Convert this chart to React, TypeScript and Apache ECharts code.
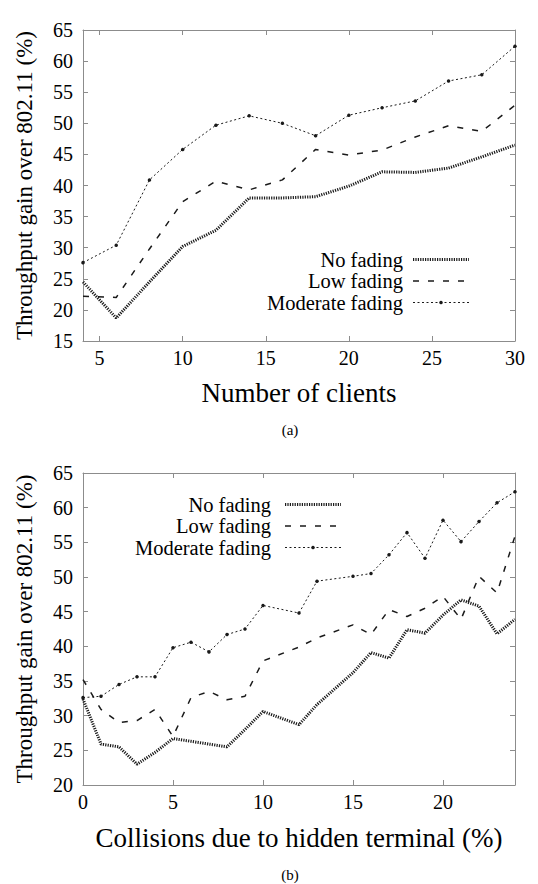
import React, { useEffect, useRef } from "react";
import * as echarts from "echarts";

// ---- Panel (a): throughput gain vs number of clients ----
const clientsX = [4, 6, 8, 10, 12, 14, 16, 18, 20, 22, 24, 26, 28, 30];
const noFadingA = [24.5, 18.7, 24.5, 30.2, 32.8, 38.0, 38.0, 38.2, 39.9, 42.2, 42.1, 42.8, 44.6, 46.5];
const lowFadingA = [22.2, 22.0, 29.8, 37.4, 40.7, 39.3, 40.9, 45.8, 44.9, 45.7, 47.8, 49.6, 48.7, 52.9];
const moderateA = [27.6, 30.4, 40.9, 45.8, 49.7, 51.2, 50.0, 48.0, 51.3, 52.5, 53.6, 56.8, 57.8, 62.4];
const ticksXA = [5, 10, 15, 20, 25, 30];

// ---- Panel (b): throughput gain vs collisions due to hidden terminal ----
const collisionsX = [0, 1, 2, 3, 4, 5, 6, 7, 8, 9, 10, 12, 13, 15, 16, 17, 18, 19, 20, 21, 22, 23, 24];
const noFadingB = [32.4, 25.9, 25.5, 23.0, 24.7, 26.7, 26.3, 25.9, 25.5, 28.0, 30.6, 28.7, 31.6, 36.2, 39.1, 38.3, 42.4, 41.9, 44.5, 46.7, 45.8, 41.8, 43.9];
const lowFadingB = [35.2, 30.9, 29.0, 29.3, 30.9, 27.0, 32.6, 33.5, 32.3, 32.8, 37.9, 39.9, 41.2, 43.1, 41.7, 45.3, 44.3, 45.5, 47.2, 43.9, 50.1, 47.7, 55.9];
const moderateB = [32.6, 32.8, 34.5, 35.6, 35.6, 39.8, 40.6, 39.2, 41.7, 42.5, 45.9, 44.8, 49.4, 50.1, 50.5, 53.2, 56.4, 52.7, 58.2, 55.1, 58.0, 60.7, 62.3];
const ticksXB = [0, 5, 10, 15, 20];

const seriesNames = ["No fading", "Low fading", "Moderate fading"];
const yTitle = "Throughput gain over 802.11 (%)";
const xTitleA = "Number of clients";
const xTitleB = "Collisions due to hidden terminal (%)";

export default function App() {
  const ref = useRef<HTMLDivElement>(null);

  useEffect(() => {
    const chart = echarts.init(ref.current!, null, { renderer: "svg" });
    const font = "Liberation Serif, Times New Roman, DejaVu Serif, serif";
    const frame = "#8c8c8c";
    const ink = "#1a1a1a";
    const pairs = (xs: number[], ys: number[]) => xs.map((x, i) => [x, ys[i]]);

    const xAx = (grid: number, pos: string, min: number, max: number, ticks: number[], name?: string, gap?: number) => ({
      type: "value",
      gridIndex: grid,
      position: pos,
      min,
      max,
      name: name || "",
      nameLocation: "middle",
      nameGap: gap || 0,
      nameTextStyle: { fontFamily: font, fontSize: 27, color: "#000" },
      axisLine: { show: true, onZero: false, lineStyle: { color: frame, width: 1 } },
      axisTick: { show: true, inside: true, length: 5, customValues: ticks, lineStyle: { color: frame } },
      axisLabel: { show: !!name, customValues: ticks, color: "#000", fontFamily: font, fontSize: 20, margin: 7 },
      splitLine: { show: false },
    });
    const yAx = (grid: number, pos: string, min: number, withName: boolean) => ({
      type: "value",
      gridIndex: grid,
      position: pos,
      min,
      max: 65,
      interval: 5,
      name: withName ? yTitle : "",
      nameLocation: "middle",
      nameGap: 47,
      nameTextStyle: { fontFamily: font, fontSize: 23, color: "#000" },
      axisLine: { show: true, onZero: false, lineStyle: { color: frame, width: 1 } },
      axisTick: { show: true, inside: true, length: 5, lineStyle: { color: frame } },
      axisLabel: { show: withName, color: "#000", fontFamily: font, fontSize: 20, margin: 10 },
      splitLine: { show: false },
    });

    const styles = [
      { symbol: "none", lineStyle: { color: ink, width: 3, type: [1.2, 1.2] } },
      { symbol: "none", lineStyle: { color: ink, width: 1.5, type: [6, 9] } },
      { symbol: "circle", symbolSize: 3.5, itemStyle: { color: ink }, lineStyle: { color: ink, width: 1, type: [2, 2.5] } },
    ];
    const mk = (i: number, xs: number[], ys: number[], panel: number) => ({
      type: "line",
      name: seriesNames[i],
      xAxisIndex: panel * 2,
      yAxisIndex: panel * 2,
      data: pairs(xs, ys),
      ...styles[i],
      emphasis: { disabled: true },
    });

    const legendItems = (textRight: number, x1: number, x2: number, ys: number[]) => {
      const out: any[] = [];
      ys.forEach((y, i) => {
        out.push({
          type: "text",
          x: textRight,
          y,
          style: { text: seriesNames[i], fontFamily: font, fontSize: 20.5, lineHeight: 20, fill: "#000", align: "right", verticalAlign: "middle" },
        });
        const ls = styles[i].lineStyle;
        out.push({
          type: "line",
          shape: { x1, y1: y, x2, y2: y },
          style: { stroke: ink, lineWidth: ls.width, lineDash: ls.type },
        });
        if (i === 2) {
          out.push({ type: "circle", shape: { cx: (x1 + x2) / 2, cy: y, r: 1.8 }, style: { fill: ink } });
        }
      });
      return out;
    };

    chart.setOption({
      animation: false,
      grid: [
        { left: 83, top: 30, width: 432, height: 311 },
        { left: 83, top: 473, width: 432, height: 312 },
      ],
      xAxis: [
        xAx(0, "bottom", 4, 30, ticksXA, xTitleA, 38),
        xAx(0, "top", 4, 30, ticksXA),
        xAx(1, "bottom", 0, 24, ticksXB, xTitleB, 39),
        xAx(1, "top", 0, 24, ticksXB),
      ],
      yAxis: [yAx(0, "left", 15, true), yAx(0, "right", 15, false), yAx(1, "left", 20, true), yAx(1, "right", 20, false)],
      series: [
        mk(0, clientsX, noFadingA, 0),
        mk(1, clientsX, lowFadingA, 0),
        mk(2, clientsX, moderateA, 0),
        mk(0, collisionsX, noFadingB, 1),
        mk(1, collisionsX, lowFadingB, 1),
        mk(2, collisionsX, moderateB, 1),
      ],
      graphic: [
        ...legendItems(403, 413, 469, [259.5, 281, 302.5]),
        ...legendItems(271, 285, 341, [504.5, 526, 547.5]),
        { type: "text", x: 290, y: 430, style: { text: "(a)", fontFamily: font, fontSize: 15, fill: "#000", align: "center", verticalAlign: "middle" } },
        { type: "text", x: 290, y: 875, style: { text: "(b)", fontFamily: font, fontSize: 15, fill: "#000", align: "center", verticalAlign: "middle" } },
      ],
    });
    return () => chart.dispose();
  }, []);

  return <div ref={ref} style={{ position: "absolute", left: 0, top: 0, width: 538, height: 884 }} />;
}
